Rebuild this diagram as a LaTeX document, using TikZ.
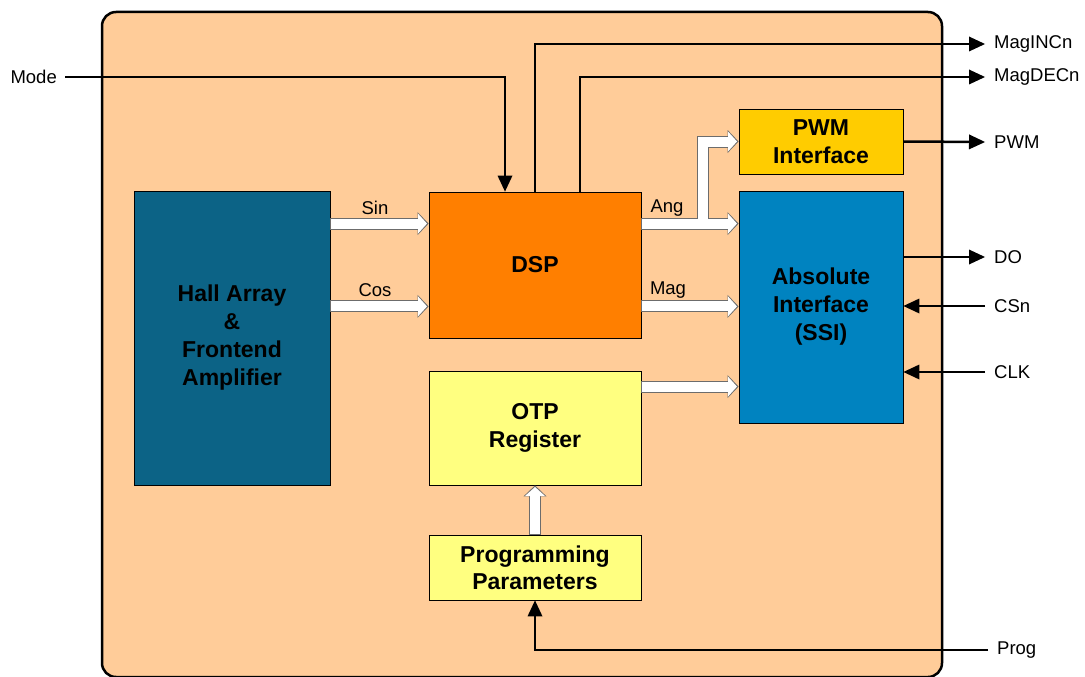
\documentclass[tikz,border=0pt]{standalone}
\usepackage{fontspec}
\setmainfont{Liberation Sans}
\usetikzlibrary{arrows.meta}
\definecolor{chipbg}{HTML}{FFCC99}
\definecolor{hallteal}{HTML}{0C6386}
\definecolor{dspor}{HTML}{FF7F00}
\definecolor{otpyel}{HTML}{FFFF80}
\definecolor{pwmgold}{HTML}{FFCC00}
\definecolor{absblue}{HTML}{0083C0}

\begin{document}
\begin{tikzpicture}[x=1pt,y=-1pt,
    block/.style={draw=black,line width=0.8pt,align=center,inner sep=0pt,
      font=\bfseries\fontsize{23}{28}\selectfont},
    pin/.style={font=\fontsize{18.5}{21}\selectfont,inner sep=0pt},
    sig/.style={line width=2.5pt,-{Triangle[length=16pt,width=15pt,line width=0pt]}},
    rim/.style={line width=12pt,draw=gray!85!black,
      -{Triangle[length=11pt,width=23pt,line width=0pt]}},
    core/.style={line width=10pt,draw=white,shorten >=1.6pt,shorten <=0.4pt,
      -{Triangle[length=9pt,width=20pt,line width=0pt]}}]
    \useasboundingbox (0,0) rectangle (1085,677);
    \draw[line width=2.5pt,fill=chipbg,rounded corners=14pt] (102,12) rectangle (942,677);

    \node[block,fill=hallteal,minimum width=196pt,minimum height=294pt] (hall) at (232,338)
      {Hall Array\\\&\\Frontend\\Amplifier};
    \node[block,fill=dspor,minimum width=212pt,minimum height=146pt] (dsp) at (535,265) {DSP};
    \node[block,fill=otpyel,minimum width=212pt,minimum height=114pt] (otp) at (535,428)
      {OTP\\Register};
    \node[block,fill=otpyel,minimum width=212pt,minimum height=65pt,
      font=\bfseries\fontsize{23}{27}\selectfont] (prg) at (535,567.5)
      {Programming\\Parameters};
    \node[block,fill=pwmgold,minimum width=164pt,minimum height=65pt] (pwm) at (821,141.5)
      {PWM\\Interface};
    \node[block,fill=absblue,minimum width=164pt,minimum height=232pt] (abs) at (821,307)
      {Absolute\\Interface\\(SSI)};

    \coordinate (sinin) at ([yshift=-32pt]dsp.north west);
    \coordinate (cosin) at ([yshift=32pt]dsp.south west);
    \coordinate (angout) at ([yshift=-32pt]dsp.north east);
    \coordinate (magout) at ([yshift=32pt]dsp.south east);
    \coordinate (otpout) at ([yshift=-16pt]otp.north east);

    \foreach \lay in {rim,core} {
      \draw[\lay] (hall.east |- sinin) -- (sinin);
      \draw[\lay] (hall.east |- cosin) -- (cosin);
      \draw[\lay] ([xshift=62pt]angout) |- (pwm.west);
      \draw[\lay] (angout) -- (abs.west |- angout);
      \draw[\lay] (magout) -- (abs.west |- magout);
      \draw[\lay] (otpout) -- (abs.west |- otpout);
      \draw[\lay] (prg.north) -- (otp.south);
    }

    \node[pin] (sinlbl) at (375,208) {Sin};
    \node[pin] (coslbl) at (375,290) {Cos};
    \node[pin] (anglbl) at (667,208) {Ang};
    \node[pin] (maglbl) at (668,290) {Mag};

    \node[pin,anchor=east] (mode) at (57,77) {Mode};
    \node[pin,anchor=west] (maginc) at (994,44) {MagINCn};
    \node[pin,anchor=west] (magdec) at (994,77) {MagDECn};
    \node[pin,anchor=west] (pwmout) at (994,142) {PWM};
    \node[pin,anchor=west] (do) at (994,257) {DO};
    \node[pin,anchor=west] (csn) at (994,306) {CSn};
    \node[pin,anchor=west] (clk) at (994,372) {CLK};
    \node[pin,anchor=west] (prog) at (997,650) {Prog};

    \draw[sig] ([xshift=8pt]mode.east) -| ([xshift=-30pt]dsp.north);
    \draw[sig] (dsp.north) |- ([xshift=-9pt]maginc.west);
    \draw[sig] ([xshift=45pt]dsp.north) |- ([xshift=-9pt]magdec.west);
    \draw[sig] (pwm.east) -- ([xshift=-9pt]pwmout.west);
    \draw[sig] (abs.east |- do.west) -- ([xshift=-9pt]do.west);
    \draw[sig] ([xshift=-9pt]csn.west) -- (abs.east |- csn.west);
    \draw[sig] ([xshift=-9pt]clk.west) -- (abs.east |- clk.west);
    \draw[sig] ([xshift=-9pt]prog.west) -| (prg.south);
  \end{tikzpicture}
\end{document}
